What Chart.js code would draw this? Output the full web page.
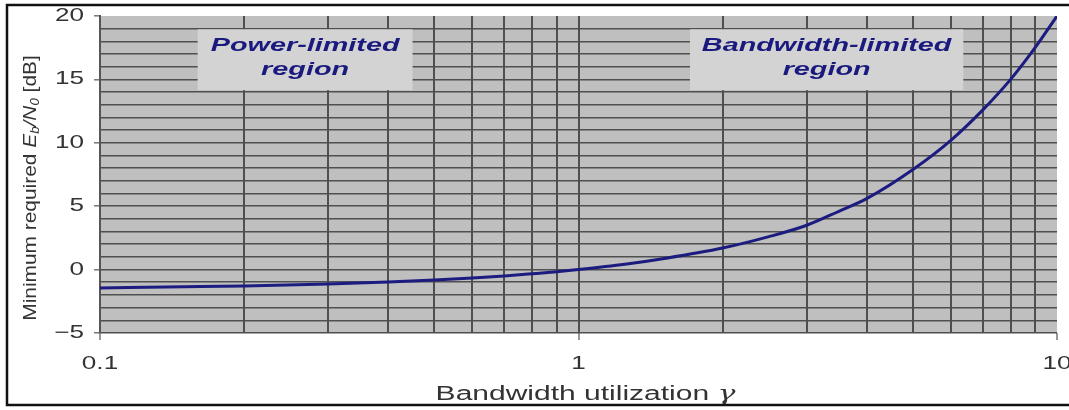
<!DOCTYPE html>
<html>
<head>
<meta charset="utf-8">
<script src="https://cdn.jsdelivr.net/npm/chart.js@4/dist/chart.umd.min.js"></script>
<style>
    body { margin: 0; background: #fff; }
    #wrap { width: 1069px; height: 410px; }
</style>
</head>
<body>
<div id="wrap"><canvas id="chart" width="1069" height="410"></canvas></div>
<script>
// bandwidth utilization (x) and minimum Eb/N0 in dB (y)
const gamma = [0.1, 0.15, 0.2, 0.3, 0.4, 0.5, 0.6, 0.7, 0.8, 0.9, 1, 1.25, 1.5, 2, 2.5, 3, 3.5, 4, 5, 6, 7, 8, 9, 10];
const ebNo = [-1.45, -1.36, -1.29, -1.13, -0.98, -0.82, -0.66, -0.5, -0.33, -0.17, 0, 0.42, 0.86, 1.7, 2.6, 3.5, 4.6, 5.6, 7.9, 10.2, 12.6, 15.0, 17.5, 20.0];

const xGridValues = [0.1, 0.2, 0.3, 0.4, 0.5, 0.6, 0.7, 0.8, 0.9, 1, 2, 3, 4, 5, 6, 7, 8, 9, 10];
const xTickLabels = ['0.1', '1', '10'];
const yMin = -5, yMax = 20, yLabelStep = 5;

const regionNames = [['Power-limited', 'region'], ['Bandwidth-limited', 'region']];
const regionX = [[0.16, 0.45], [1.71, 6.37]];
const regionY = [18.95, 14.15];

const textColor = '#333';
const gridColor = '#4f4f4f';
const plotBg = '#bfbfbf';
const boxBg = '#d3d3d3';
const lineColor = '#1c1c80';
const noColor = 'rgba(0,0,0,0)';

// the picture is stretched sideways, so text is too
let stretchX = 1.45;

function isDecade(v) {
    const l = Math.log10(v);
    return Math.abs(l - Math.round(l)) < 1e-9;
}

const stretchPlugin = {
    id: 'stretch',
    beforeInit(chart) {
        const ctx = chart.ctx;
        const orig = ctx.fillText.bind(ctx);
        ctx.fillText = function (text, x, y) {
            if (stretchX === 1) return orig(text, x, y);
            ctx.save();
            ctx.translate(x, y);
            ctx.scale(stretchX, 1);
            orig(text, 0, 0);
            ctx.restore();
        };
    }
};

const backgroundPlugin = {
    id: 'plotBackground',
    beforeDraw(chart) {
        const {ctx, chartArea: a} = chart;
        ctx.save();
        ctx.fillStyle = plotBg;
        ctx.fillRect(a.left, a.top, a.right - a.left, a.bottom - a.top);
        ctx.restore();
    }
};

const regionPlugin = {
    id: 'regions',
    beforeDatasetsDraw(chart) {
        const {ctx, scales: {x, y}} = chart;
        ctx.save();
        regionNames.forEach((lines, i) => {
            const x0 = x.getPixelForValue(regionX[i][0]);
            const x1 = x.getPixelForValue(regionX[i][1]);
            const y0 = y.getPixelForValue(regionY[0]);
            const y1 = y.getPixelForValue(regionY[1]);
            ctx.fillStyle = boxBg;
            ctx.fillRect(x0, y0, x1 - x0, y1 - y0);
            ctx.fillStyle = '#1a1a7e';
            ctx.font = 'italic bold 18px "Liberation Sans", Arial, sans-serif';
            ctx.textAlign = 'center';
            ctx.textBaseline = 'alphabetic';
            const cx = (x0 + x1) / 2;
            stretchX = 1.6;
            ctx.fillText(lines[0], cx, y0 + 22);
            ctx.fillText(lines[1], cx, y0 + 46);
            stretchX = 1.45;
        });
        ctx.restore();
    }
};

function drawRich(ctx, parts, sx) {
    let total = 0;
    parts.forEach(p => {
        ctx.font = p.f;
        p.w = ctx.measureText(p.t).width * sx;
        total += p.w;
    });
    let pos = -total / 2;
    stretchX = sx;
    parts.forEach(p => {
        ctx.font = p.f;
        ctx.fillText(p.t, pos, p.dy || 0);
        pos += p.w;
    });
    stretchX = 1.45;
}

const titlePlugin = {
    id: 'titles',
    afterDraw(chart) {
        const {ctx, chartArea: a} = chart;
        const fam = '"Liberation Sans", Arial, sans-serif';
        ctx.save();
        ctx.fillStyle = textColor;
        ctx.textAlign = 'left';
        ctx.textBaseline = 'alphabetic';

        // y-axis title, rotated
        ctx.save();
        ctx.translate(36, 188);
        ctx.rotate(-Math.PI / 2);
        drawRich(ctx, [
            {t: 'Minimum required ', f: '19px ' + fam},
            {t: 'E', f: 'italic 19px ' + fam},
            {t: 'b', f: 'italic 12px ' + fam, dy: 3},
            {t: '/', f: 'italic 19px ' + fam},
            {t: 'N', f: 'italic 19px ' + fam},
            {t: '0', f: 'italic 12px ' + fam, dy: 3},
            {t: ' [dB]', f: '19px ' + fam}
        ], 1.1);
        ctx.restore();

        // x-axis title
        ctx.save();
        ctx.translate((a.left + a.right) / 2 + 7, 400);
        drawRich(ctx, [
            {t: 'Bandwidth utilization ', f: '20px ' + fam},
            {t: 'γ', f: 'italic 20px "DejaVu Serif", serif'}
        ], 1.5);
        ctx.restore();

        // frame round the picture
        ctx.strokeStyle = '#111';
        ctx.lineWidth = 2.5;
        ctx.strokeRect(7, 5, 1080, 400);
        ctx.restore();
    }
};

new Chart(document.getElementById('chart'), {
    type: 'line',
    data: {
        datasets: [{
            data: gamma.map((g, i) => ({x: g, y: ebNo[i]})),
            borderColor: lineColor,
            borderWidth: 3,
            pointRadius: 0,
            cubicInterpolationMode: 'monotone',
            fill: false
        }]
    },
    options: {
        responsive: false,
        animation: false,
        events: [],
        layout: {padding: {left: 0, right: 12, top: 16, bottom: 0}},
        plugins: {
            legend: {display: false},
            tooltip: {enabled: false}
        },
        scales: {
            x: {
                type: 'logarithmic',
                min: 0.1,
                max: 10,
                afterBuildTicks: s => { s.ticks = xGridValues.map(v => ({value: v})); },
                afterFit: s => { s.height = 77; s.paddingLeft = 0; s.paddingRight = 0; },
                border: {display: false},
                grid: {
                    color: c => (c.tick && c.tick.value >= 10) ? noColor : gridColor,
                    lineWidth: 2,
                    tickLength: 7,
                    tickColor: c => (c.tick && isDecade(c.tick.value)) ? '#777' : noColor,
                    tickWidth: 1.5
                },
                ticks: {
                    autoSkip: false,
                    maxRotation: 0,
                    padding: 13,
                    color: textColor,
                    font: {family: '"Liberation Sans", Arial, sans-serif', size: 18},
                    callback: v => isDecade(v) ? xTickLabels[Math.round(Math.log10(v)) + 1] : ''
                }
            },
            y: {
                min: yMin,
                max: yMax,
                afterFit: s => { s.width = 100; s.paddingTop = 0; s.paddingBottom = 0; },
                border: {display: true, color: '#555', width: 2},
                grid: {
                    color: c => (c.tick && c.tick.value === yMax) ? noColor : gridColor,
                    lineWidth: 1.6,
                    tickLength: 6,
                    tickColor: c => (c.tick && c.tick.value % yLabelStep === 0) ? '#777' : noColor,
                    tickWidth: 1.5
                },
                ticks: {
                    stepSize: 1,
                    autoSkip: false,
                    padding: 10,
                    color: textColor,
                    font: {family: '"Liberation Sans", Arial, sans-serif', size: 18},
                    callback: v => v % yLabelStep === 0 ? (v < 0 ? '\u2212' + Math.abs(v) : String(v)) : ''
                }
            }
        }
    },
    plugins: [stretchPlugin, backgroundPlugin, regionPlugin, titlePlugin]
});
</script>
</body>
</html>
